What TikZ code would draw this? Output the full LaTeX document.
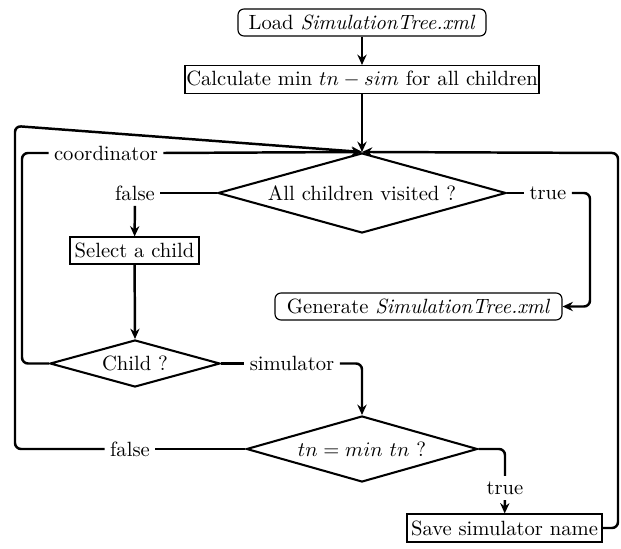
\documentclass[tikz,border=0pt]{standalone}
\usetikzlibrary{shapes.geometric,arrows.meta}
\begin{document}
\def\upx{0.485pt}
% text of a decision takes no room, so the diamond is exactly its minimum size
\newcommand\dtext[1]{\smash{\makebox[0pt]{\raisebox{-3.4pt}{#1}}}}
\begin{tikzpicture}[x=0.485pt,y=-0.485pt,
  font=\fontsize{10}{12}\selectfont,
  roundbox/.style={draw,line width=0.55pt,rounded corners=6*\upx,inner sep=0pt,
    minimum height=27*\upx},
  stepbox/.style={draw,line width=0.55pt,inner sep=0pt,minimum height=28*\upx},
  decision/.style={draw,diamond,line width=1pt,inner sep=0pt,shape aspect=3.5},
  lbl/.style={inner sep=2.5pt},
  conn/.style={line width=1.2pt,rounded corners=6*\upx},
  arr/.style={conn,-{Stealth[length=5pt,width=4.5pt]}}]
\useasboundingbox (0,0) rectangle (621,549);

% boxes
\node[roundbox,minimum width=248*\upx] (load) at (362,22.5) {Load \textit{SimulationTree.xml}};
\node[stepbox,minimum width=354*\upx] (calc) at (362,79.5) {Calculate min $tn-sim$ for all children};
\node[decision,minimum width=288*\upx,minimum height=80*\upx] (visited) at (362,193) {\dtext{All children visited ?}};
\node[stepbox,minimum width=129*\upx,minimum height=27*\upx] (select) at (134.5,250.5) {Select a child};
\node[roundbox,minimum width=287*\upx] (gen) at (418.5,306.5) {Generate \textit{SimulationTree.xml}};
\node[decision,minimum width=170*\upx,minimum height=47*\upx] (child) at (135,363.5) {\dtext{Child ?}};
\node[decision,minimum width=231*\upx,minimum height=66*\upx] (tnmin) at (362,449) {\dtext{$tn = min\ tn$ ?}};
\node[stepbox,minimum width=195*\upx] (save) at (504.5,528) {Save simulator name};

% branch labels
\node[lbl] (fvisited) at (135,193) {false};
\node[lbl] (tvisited) at (548,193) {true};
\node[lbl] (coordl) at (106,153) {coordinator};
\node[lbl] (siml) at (292,363.5) {simulator};
\node[lbl] (ftn) at (130,449) {false};
\node[lbl] (ttn) at (505,488) {true};

% corner points of the loops
\coordinate (cA) at (22,363.5);
\coordinate (cB) at (22,153);
\coordinate (cC) at (590,193);
\coordinate (cD) at (590,306.5);
\coordinate (cE) at (362,363.5);
\coordinate (cF) at (15,449);
\coordinate (cG) at (15,126);
\coordinate (cH) at (505,449);
\coordinate (cI) at (618,528);
\coordinate (cJ) at (618,153);

% main flow
\draw[arr] (load) -- (calc);
\draw[arr] (calc) -- (visited.north);
\draw[conn] (visited.west) -- (fvisited);
\draw[arr] (fvisited) -- (select);
\draw[arr] (select) -- (child.north);

% coordinator loop
\draw[conn] (child.west) -- (cA) -- (cB) -- (coordl.west);
\draw[arr] (coordl.east) -- (visited.north);

% all children visited
\draw[conn] (visited.east) -- (tvisited);
\draw[arr] (tvisited.east) -- (cC) -- (cD) -- (gen.east);

% simulator branch
\draw[conn] (child.east) -- (siml);
\draw[arr] (siml.east) -- (cE) -- (tnmin.north);

% tn not minimal
\draw[conn] (tnmin.west) -- (ftn);
\draw[arr] (ftn.west) -- (cF) -- (cG) -- (visited.north);

% tn minimal
\draw[conn] (tnmin.east) -- (cH) -- (ttn.north);
\draw[arr] (ttn) -- (save);
\draw[arr] (save.east) -- (cI) -- (cJ) -- (visited.north);
\end{tikzpicture}
\end{document}
